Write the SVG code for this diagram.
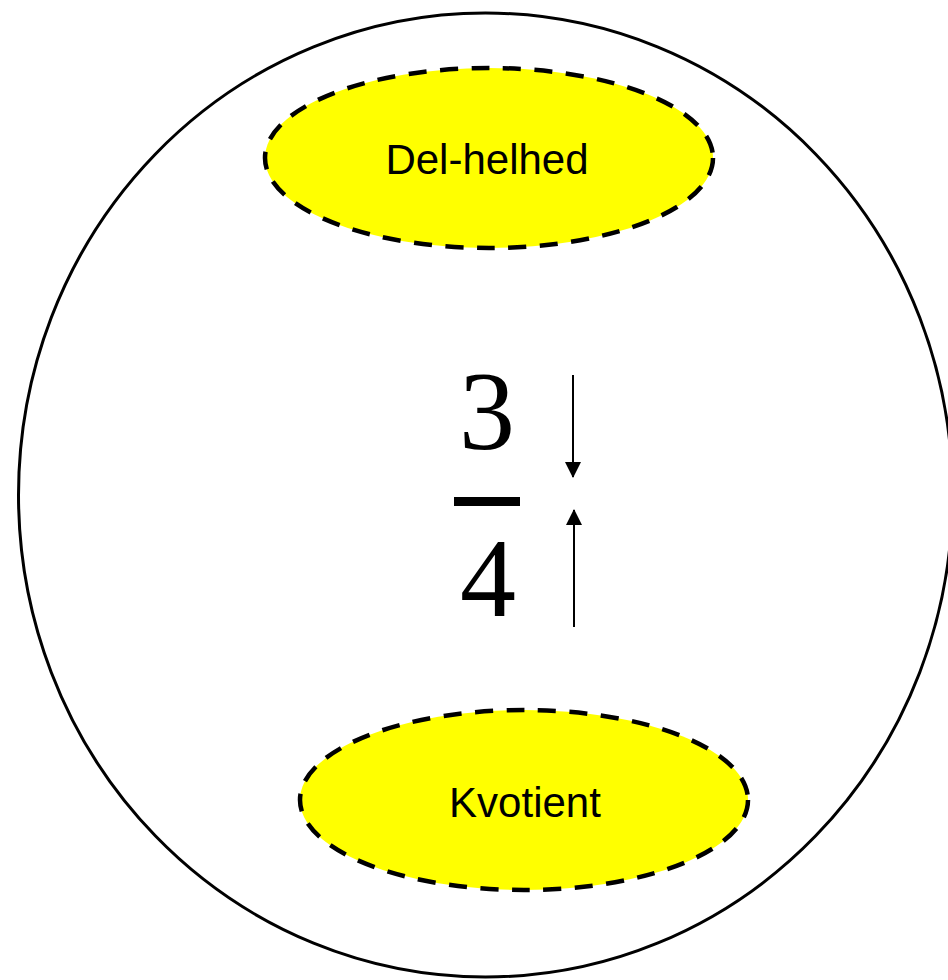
<svg xmlns="http://www.w3.org/2000/svg" width="948" height="980" viewBox="0 0 948 980">
<style>
.oval{fill:#ffff00;stroke:#000;stroke-width:4.5;stroke-dasharray:18 13.5}
.lbl{font-family:"Liberation Sans",Arial,sans-serif;font-size:42px;fill:#000;text-anchor:middle}
.num{font-family:"Liberation Serif","DejaVu Serif",serif;font-size:112px;fill:#000;text-anchor:middle}
.conn{stroke:#000;stroke-width:2;fill:none}
</style>
<defs>
<marker id="ah" markerWidth="8" markerHeight="8" refX="7.5" refY="4" orient="auto" markerUnits="strokeWidth">
<path d="M0,0 L8,4 L0,8 Z" fill="#000"/>
</marker>
</defs>
<rect width="948" height="980" fill="#fff"/>
<g id="outer">
<ellipse cx="485.5" cy="495" rx="467" ry="482" fill="none" stroke="#000" stroke-width="3"/>
</g>
<g id="del-helhed">
<ellipse class="oval" cx="489" cy="158" rx="224" ry="90"/>
<text class="lbl" x="487" y="174">Del-helhed</text>
</g>
<g id="kvotient">
<ellipse class="oval" cx="524" cy="800" rx="224" ry="90"/>
<text class="lbl" x="525" y="817">Kvotient</text>
</g>
<g id="fraction">
<text class="num" x="487" y="449">3</text>
<rect x="454" y="497" width="66" height="9" fill="#000"/>
<text class="num" x="488" y="616">4</text>
</g>
<g id="connectors">
<line class="conn" x1="573" y1="375" x2="573" y2="477" marker-end="url(#ah)"/>
<line class="conn" x1="574" y1="627" x2="574" y2="510" marker-end="url(#ah)"/>
</g>
</svg>
